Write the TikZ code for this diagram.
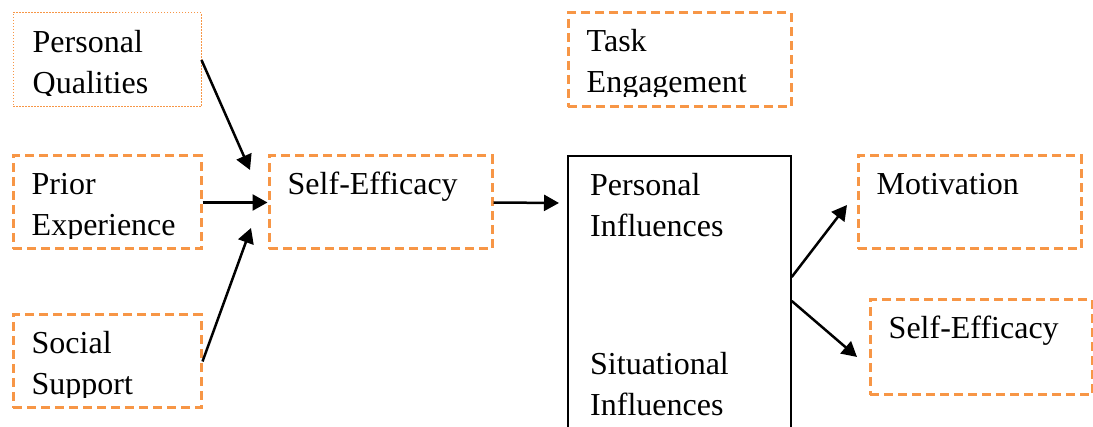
\documentclass[tikz,border=0pt]{standalone}
\usepackage{fontspec}
\setmainfont{Liberation Serif}
\usetikzlibrary{arrows.meta}

\definecolor{boxorange}{RGB}{247,150,70}

\tikzset{
  box/.style={rectangle,inner sep=0pt,minimum width=223pt,minimum height=93pt},
  dashbox/.style={box,draw=boxorange,line width=3pt,dash pattern=on 9pt off 5pt},
  dotbox/.style={box,draw=boxorange,line width=1pt,dash pattern=on 1.5pt off 1.5pt},
  plainbox/.style={box,draw,line width=1.5pt},
  boxtext/.style={anchor=base west,inner sep=0pt,font=\fontsize{32}{41}\selectfont},
  link/.style={line width=2.5pt,-{Triangle[length=15pt,width=16pt]}}
}

% lines of a box, 41pt apart, cut off a little above its lower edge
\newcommand{\boxlines}[2]{%
  \begin{scope}
    \clip (#1.north west) rectangle ([yshift=12pt]#1.south east);
    \foreach \txt [count=\i] in {#2}
      \node[boxtext] (#1-\i) at ([shift={(20pt,{-40pt-41pt*(\i-1)})}]#1.north west) {\txt};
  \end{scope}}

\begin{document}
\begin{tikzpicture}[x=1pt,y=-1pt]
  \useasboundingbox (0,0) rectangle (1093,427);

  % left column
  \node[dotbox,minimum width=188pt,minimum height=94pt] (pq) at (107,60) {};
  \node[dashbox,minimum width=188pt] (pe) at (107,202.5) {};
  \node[dashbox,minimum width=188pt] (ss) at (107,361.5) {};
  \boxlines{pq}{Personal,Qualities}
  \boxlines{pe}{Prior,Experience}
  \boxlines{ss}{Social,Support}

  % middle
  \node[dashbox] (se) at (380.5,202.5) {};
  \boxlines{se}{Self-Efficacy}
  \node[dashbox,minimum height=94pt] (te) at (679.5,60) {};
  \boxlines{te}{Task,Engagement}
  \node[plainbox,minimum height=284pt] (inf) at (679.5,298) {};
  \node[boxtext] (pinf1) at (590,196) {Personal};
  \node[boxtext] (pinf2) at (590,237) {Influences};
  \node[boxtext] (sinf1) at (590,375) {Situational};
  \node[boxtext] (sinf2) at (590,416) {Influences};

  % right column
  \node[dashbox] (mo) at (969.5,202.5) {};
  \boxlines{mo}{Motivation}
  \node[dashbox,minimum width=222pt,minimum height=95pt] (se2) at (981,347.5) {};
  \boxlines{se2}{Self-Efficacy}

  % arrow ends
  \coordinate (se-in1) at (250,170);
  \coordinate (se-in3) at (251,228);
  \coordinate (inf-in) at (559,203);
  \coordinate (mo-in) at (847,205);
  \coordinate (se2-in) at (857,357);

  \draw[link] (pq.east) -- (se-in1);
  \draw[link] (pe) -- (se);
  \draw[link] (ss.east) -- (se-in3);
  \draw[link] (se.east) -- (inf-in);
  \draw[link] ([yshift=21pt]inf.east) -- (mo-in);
  \draw[link] ([yshift=-3pt]inf.east) -- (se2-in);
\end{tikzpicture}
\end{document}
